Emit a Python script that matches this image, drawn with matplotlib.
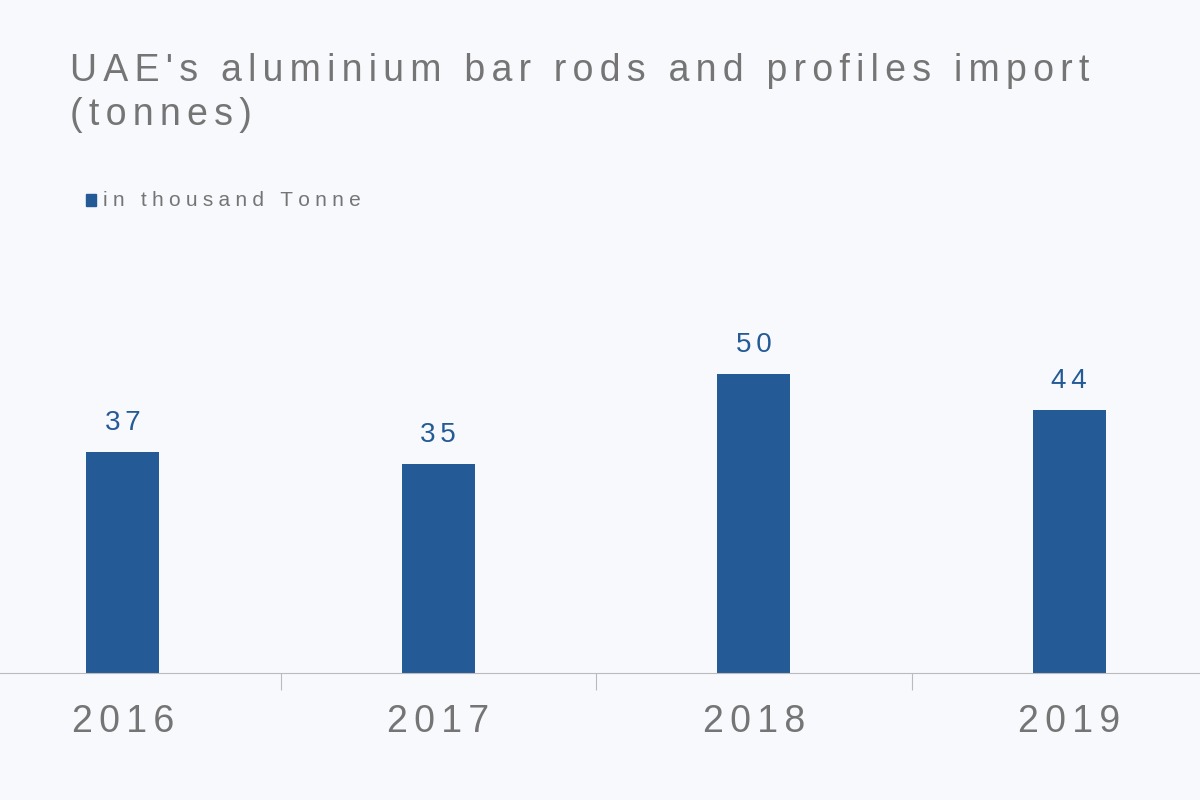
import matplotlib
matplotlib.use("Agg")
import matplotlib.pyplot as plt

years = ["2016", "2017", "2018", "2019"]
values = [37, 35, 50, 44]
bar_color = "#245A96"
bg = "#F7F9FC"
FAM = ["Liberation Sans", "DejaVu Sans"]

def sp(s, n=1):
    return ("\u200a" * n).join(s)

fig = plt.figure(figsize=(12, 8), dpi=100, facecolor=bg)
ax = fig.add_axes([-35/1200, 127/800, 1262/1200, 473/800], facecolor=bg)
x = list(range(len(years)))
ax.bar(x, values, width=0.23, color=bar_color)
ax.set_xlim(-0.5, 3.5)
ax.set_ylim(0, 473/5.98)
for xi, v in zip(x, values):
    ax.text(xi, v + 2.6, sp(str(v), 2), ha="center", va="bottom", fontsize=20, color=bar_color,
            family=FAM)
for s in ["top", "right", "left"]:
    ax.spines[s].set_visible(False)
ax.spines["bottom"].set_color("#BBBBBB")
ax.set_yticks([])
ax.set_xticks([0.5, 1.5, 2.5])
ax.set_xticklabels([])
ax.tick_params(axis="x", length=12, color="#BBBBBB", direction="out")
for xi, y in zip(x, years):
    ax.text(xi, -8.2, sp(y, 2), ha="center", va="center", fontsize=27, color="#757575", family=FAM)

title = sp("UAE's aluminium bar rods and profiles import", 2) + "\n" + sp("(tonnes)", 2)
fig.text(70/1200, 1 - 53/800, title, ha="left", va="top", fontsize=27, color="#757575",
         linespacing=1.3, family=FAM)
fig.patches.append(plt.Rectangle((86/1200, 1 - 206/800), 10/1200, 12/800, transform=fig.transFigure,
                                 color=bar_color))
fig.text(103/1200, 1 - 200/800, sp("in thousand Tonne", 3), ha="left", va="center", fontsize=15,
         color="#757575", family=FAM)
fig.savefig("out.png", dpi=100, facecolor=bg)
